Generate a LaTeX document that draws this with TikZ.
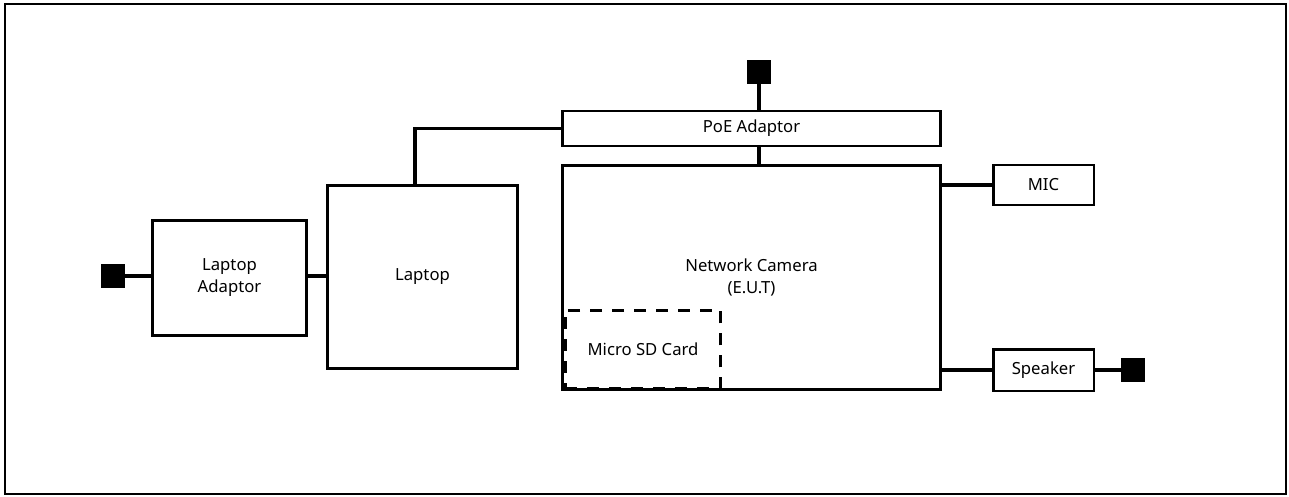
\documentclass[tikz,border=0pt]{standalone}
\usepackage{fontspec}
\setmainfont{Noto Sans}
\usetikzlibrary{positioning, calc}

\begin{document}
\begin{tikzpicture}[x=0.02cm, y=-0.02cm,
        unitbox/.style={rectangle, draw=black, line width=1.7pt, inner sep=0pt, align=center, font=\fontsize{9.5}{12.5}\selectfont},
        cardbox/.style={unitbox, dash pattern=on 6.8pt off 5.7pt},
        plug/.style={rectangle, fill=black, minimum size=0.48cm, inner sep=0pt},
        line/.style={draw=black, line width=2pt}]

        \useasboundingbox (0,0) rectangle (1289,497);
        \draw [line width=1.4pt] (5,4) rectangle (1286,494);

        \node [plug] (plugL) at (113,276) {};
        \node [unitbox, minimum width=3.1cm, minimum height=2.32cm] (adaptor) at (229.5,278) {Laptop\\Adaptor};
        \node [unitbox, minimum width=3.82cm, minimum height=3.68cm] (laptop) at (422.5,277) {Laptop};

        \node [unitbox, minimum width=7.58cm, minimum height=0.7cm] (poe) at (751.5,128.5) {PoE Adaptor};
        \node [plug] (plugT) at (759,72) {};
        \node [unitbox, minimum width=7.58cm, minimum height=4.5cm] (camera) at (751.5,277.5) {Network Camera\\(E.U.T)};
        \node [cardbox, minimum width=3.1cm, minimum height=1.56cm] (sdcard) at (643,349) {Micro SD Card};

        \node [unitbox, minimum width=2.02cm, minimum height=0.8cm] (mic) at (1043.5,185) {MIC};
        \node [unitbox, minimum width=2.02cm, minimum height=0.84cm] (speaker) at (1043.5,370) {Speaker};
        \node [plug] (plugR) at (1133,370) {};

        \path [line] (plugL) -- (plugL -| adaptor.west);
        \path [line] (plugL -| adaptor.east) -- (plugL -| laptop.west);
        \path [line] ([xshift=-0.15cm]laptop.north) |- (poe.west);
        \path [line] (plugT) -- (plugT |- poe.north);
        \path [line] (plugT |- poe.south) -- (plugT |- camera.north);
        \path [line] (mic.west) -- (mic.west -| camera.east);
        \path [line] (speaker.west) -- (speaker.west -| camera.east);
        \path [line] (speaker.east) -- (plugR);
    \end{tikzpicture}
\end{document}
